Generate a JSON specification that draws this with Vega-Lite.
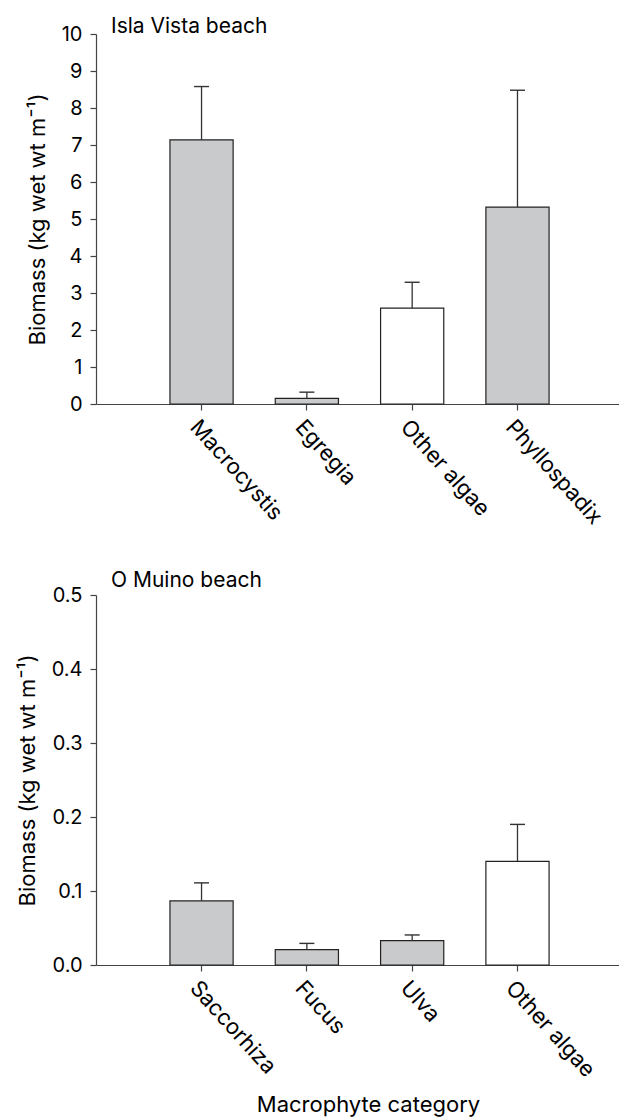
{
  "$schema": "https://vega.github.io/schema/vega-lite/v6.json",
  "background": "white",
  "padding": {"left": 16, "top": 16, "right": 0, "bottom": 5},
  "spacing": 42,
  "config": {
    "font": "Inter",
    "view": {"stroke": null},
    "axis": {
      "domainColor": "#444",
      "domainWidth": 1.2,
      "tickColor": "#444",
      "tickWidth": 1.2,
      "tickSize": 6,
      "labelPadding": 8,
      "labelColor": "black",
      "titleColor": "black",
      "labelFontSize": 20,
      "titleFontSize": 22,
      "titleFontWeight": "normal",
      "labelOverlap": false,
      "grid": false
    },
    "axisY": {"titlePadding": 12},
    "axisX": {"labelFontSize": 22, "labelAngle": 48, "labelAlign": "left", "labelBaseline": "top", "labelPadding": 6},
    "title": {"fontSize": 21, "fontWeight": "normal", "anchor": "start", "frame": "group", "color": "black"}
  },
  "vconcat": [
    {
      "width": 523,
      "height": 370,
      "title": {"text": "Isla Vista beach", "dx": 15, "offset": -13},
      "data": {"values": [
        {"category": "Macrocystis", "biomass": 7.14, "upper": 8.58},
        {"category": "Egregia", "biomass": 0.15, "upper": 0.32},
        {"category": "Other algae", "biomass": 2.59, "upper": 3.29},
        {"category": "Phyllospadix", "biomass": 5.32, "upper": 8.48}
      ]},
      "encoding": {
        "x": {"field": "category", "type": "nominal", "sort": null,
              "scale": {"paddingInner": 0.4, "paddingOuter": 0.683, "align": 0.514},
              "axis": {"title": null}}
      },
      "layer": [
        {
          "mark": {"type": "bar", "stroke": "#222", "strokeWidth": 1.2},
          "encoding": {
            "y": {"field": "biomass", "type": "quantitative", "title": "Biomass (kg wet wt m⁻¹)",
                  "scale": {"domain": [0, 10]},
                  "axis": {"values": [0,1,2,3,4,5,6,7,8,9,10], "format": "d"}},
            "fill": {"condition": {"test": "datum.category === 'Other algae'", "value": "white"}, "value": "#c9cacc"}
          }
        },
        {
          "mark": {"type": "rule", "stroke": "#333", "strokeWidth": 1.3},
          "encoding": {
            "y": {"field": "biomass", "type": "quantitative", "title": "Biomass (kg wet wt m⁻¹)", "scale": {"domain": [0, 10]},
                  "axis": {"values": [0,1,2,3,4,5,6,7,8,9,10], "format": "d"}},
            "y2": {"field": "upper"}
          }
        },
        {
          "mark": {"type": "tick", "color": "#333", "size": 15, "thickness": 1.4, "opacity": 1},
          "encoding": {
            "y": {"field": "upper", "type": "quantitative", "title": "Biomass (kg wet wt m⁻¹)", "scale": {"domain": [0, 10]},
                  "axis": {"values": [0,1,2,3,4,5,6,7,8,9,10], "format": "d"}}
          }
        }
      ]
    },
    {
      "width": 523,
      "height": 370,
      "title": {"text": "O Muino beach", "dx": 15, "offset": -6},
      "data": {"values": [
        {"category": "Saccorhiza", "biomass": 0.0866, "upper": 0.111},
        {"category": "Fucus", "biomass": 0.0207, "upper": 0.0292},
        {"category": "Ulva", "biomass": 0.0329, "upper": 0.0406},
        {"category": "Other algae", "biomass": 0.14, "upper": 0.19}
      ]},
      "encoding": {
        "x": {"field": "category", "type": "nominal", "sort": null,
              "scale": {"paddingInner": 0.4, "paddingOuter": 0.683, "align": 0.514},
              "axis": {"title": "Macrophyte category", "titleFontSize": 22, "titleX": 272, "titlePadding": 14}}
      },
      "layer": [
        {
          "mark": {"type": "bar", "stroke": "#222", "strokeWidth": 1.2},
          "encoding": {
            "y": {"field": "biomass", "type": "quantitative", "title": "Biomass (kg wet wt m⁻¹)",
                  "scale": {"domain": [0, 0.5]},
                  "axis": {"values": [0, 0.1, 0.2, 0.3, 0.4, 0.5], "format": ".1f"}},
            "fill": {"condition": {"test": "datum.category === 'Other algae'", "value": "white"}, "value": "#c9cacc"}
          }
        },
        {
          "mark": {"type": "rule", "stroke": "#333", "strokeWidth": 1.3},
          "encoding": {
            "y": {"field": "biomass", "type": "quantitative", "title": "Biomass (kg wet wt m⁻¹)", "scale": {"domain": [0, 0.5]},
                  "axis": {"values": [0, 0.1, 0.2, 0.3, 0.4, 0.5], "format": ".1f"}},
            "y2": {"field": "upper"}
          }
        },
        {
          "mark": {"type": "tick", "color": "#333", "size": 15, "thickness": 1.4, "opacity": 1},
          "encoding": {
            "y": {"field": "upper", "type": "quantitative", "title": "Biomass (kg wet wt m⁻¹)", "scale": {"domain": [0, 0.5]},
                  "axis": {"values": [0, 0.1, 0.2, 0.3, 0.4, 0.5], "format": ".1f"}}
          }
        }
      ]
    }
  ]
}
